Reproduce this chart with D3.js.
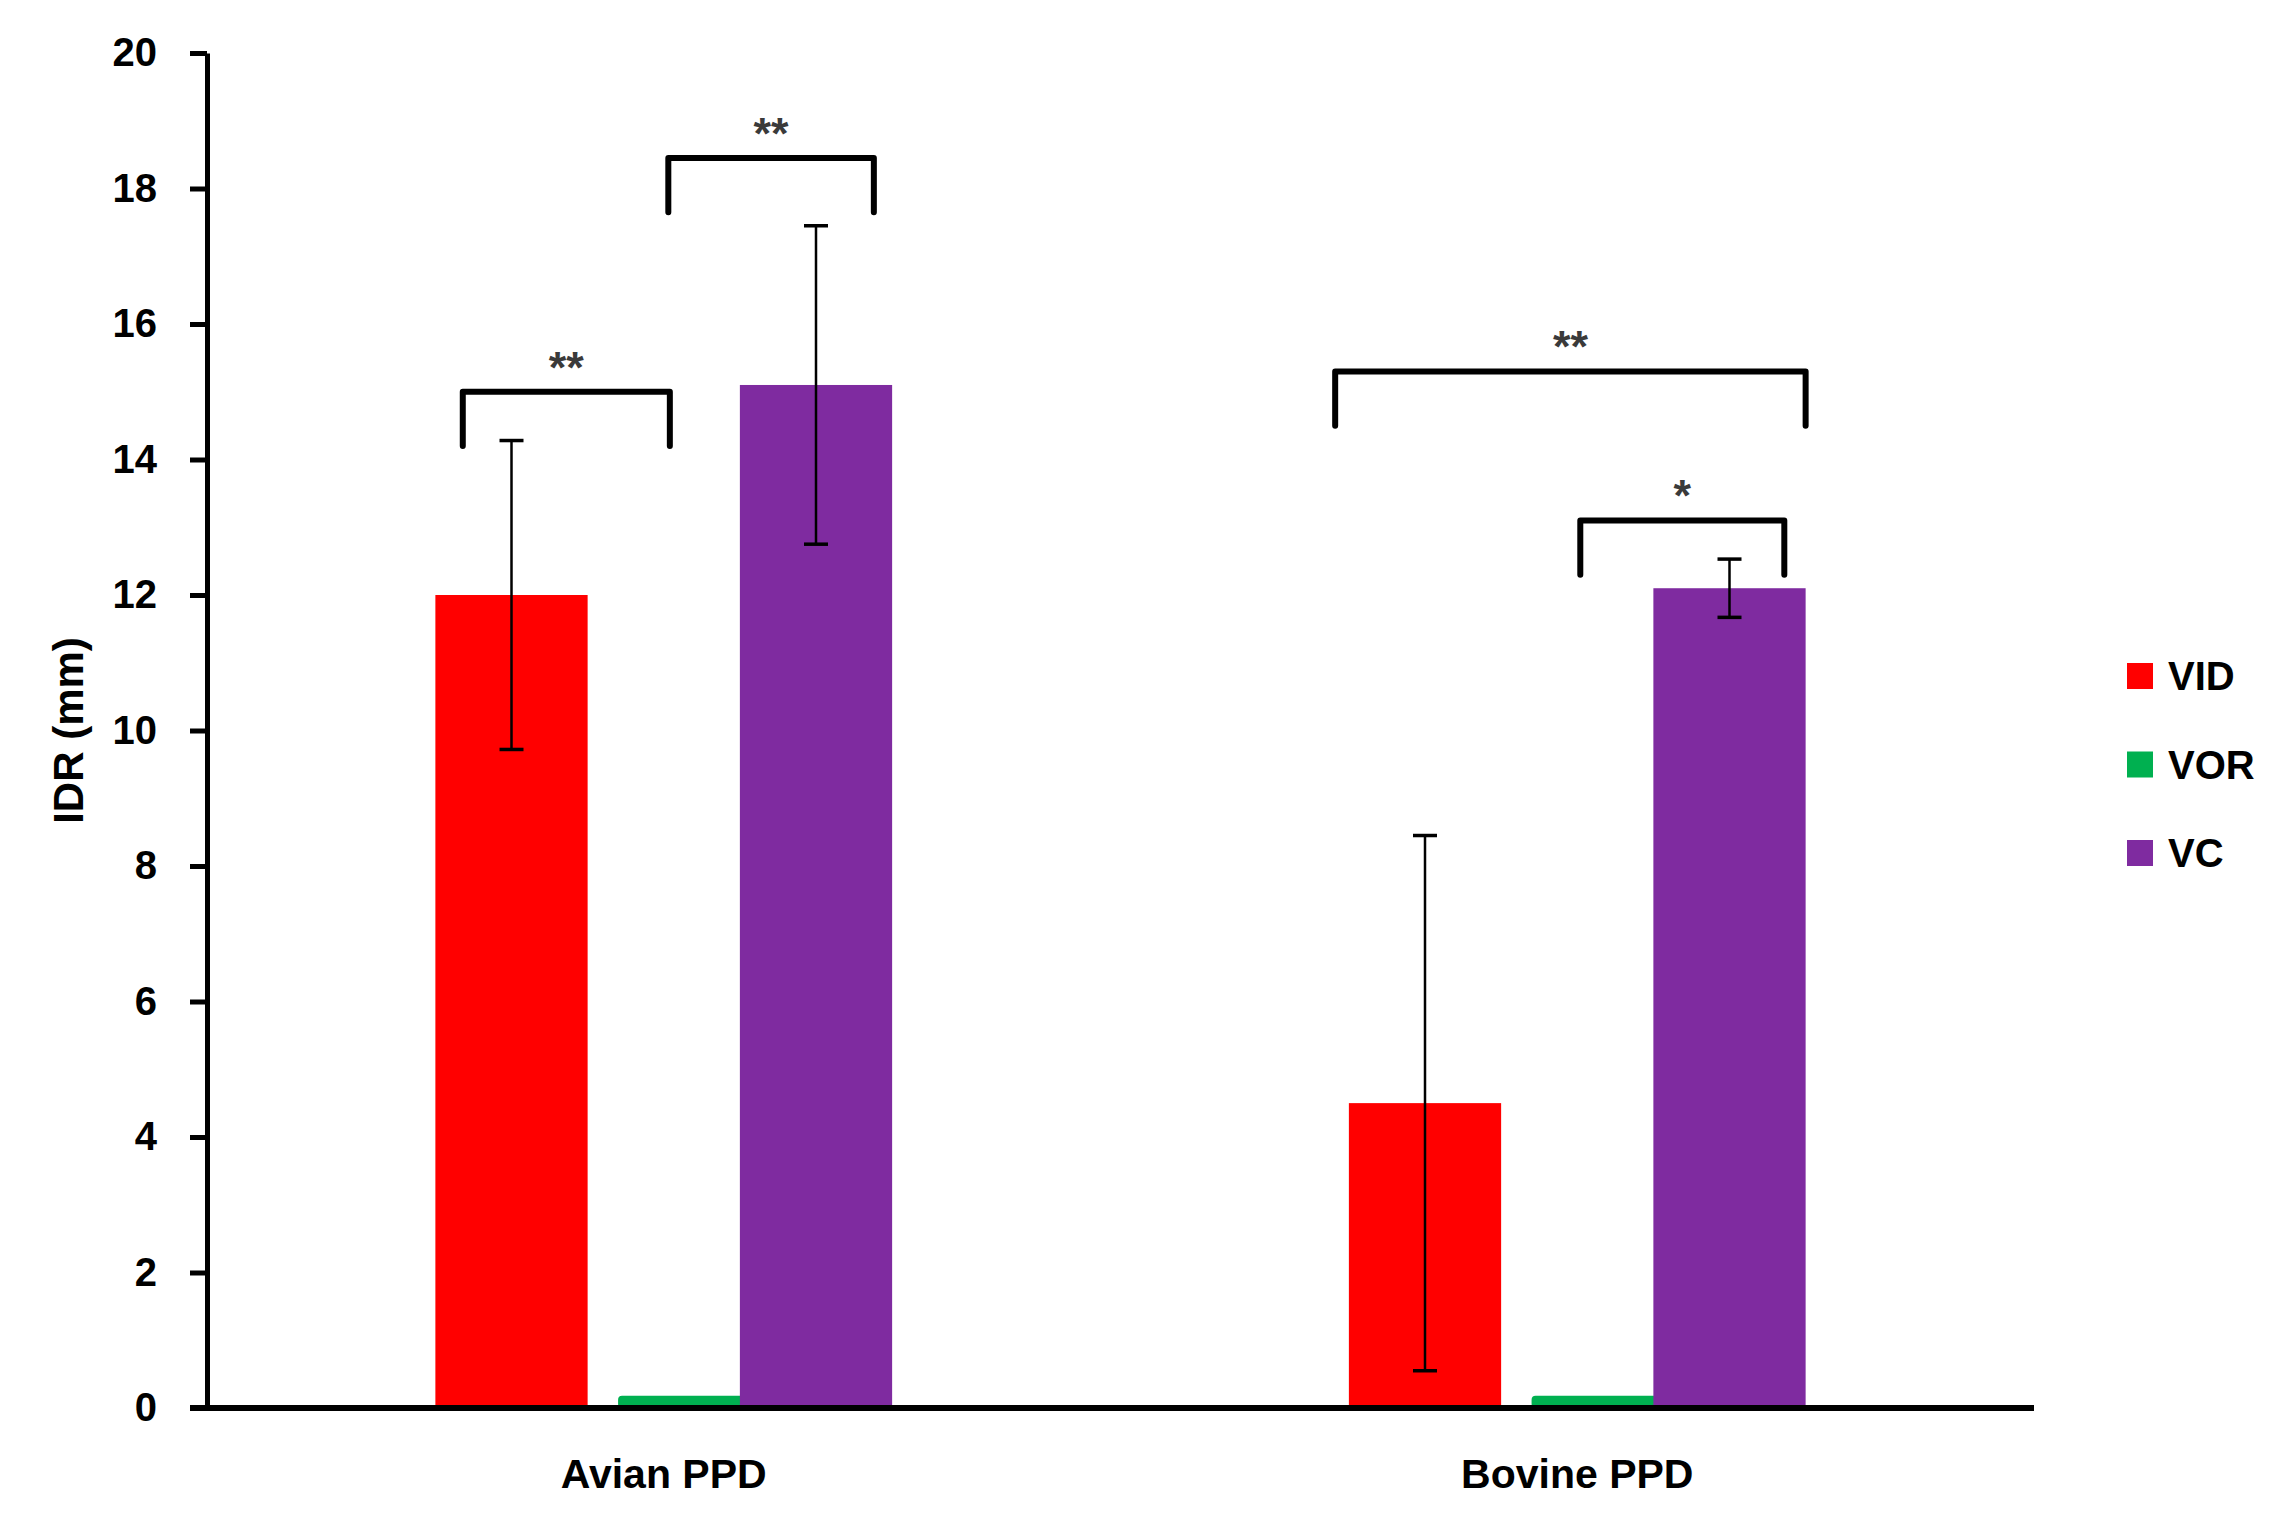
<!DOCTYPE html>
<html>
<head>
<meta charset="utf-8">
<script src="https://cdn.jsdelivr.net/npm/d3@7"></script>
<style>
  body { margin: 0; background: #fff; }
  text { font-family: "Liberation Sans", Arial, sans-serif; font-weight: bold; }
</style>
</head>
<body>
<svg id="chart" width="2295" height="1525"></svg>
<script>
// ---- data ----
var categories = ["Avian PPD", "Bovine PPD"];
var series = ["VID", "VOR", "VC"];
var colors = ["#ff0000", "#00b050", "#7f2ba0"];

// mean IDR (mm), one array per series, ordered as categories
var vidMeans = [12.0, 4.5];
var vorMeans = [0.15, 0.15];
var vcMeans  = [15.1, 12.1];

// error bar half-lengths
var vidErr = [2.28, 3.95];
var vorErr = [0, 0];
var vcErr  = [2.35, 0.43];

var yTicks = [0, 2, 4, 6, 8, 10, 12, 14, 16, 18, 20];

// significance brackets: category, first and last series, bracket level (mm)
var bracketCats   = ["Avian PPD", "Avian PPD", "Bovine PPD", "Bovine PPD"];
var bracketFrom   = ["VID", "VOR", "VID", "VOR"];
var bracketTo     = ["VOR", "VC", "VC", "VC"];
var bracketLevels = [15.0, 18.45, 15.3, 13.1];
var bracketLabels = ["**", "**", "**", "*"];

// ---- layout ----
var plot = {left: 207, right: 2034, top: 53, bottom: 1408};
var legDrop = 0.8;                 // bracket leg length in mm
// where the bracket ends sit inside their bar slot (fraction of bar width)
var bracketFromFrac = [0.18, 0.53, -0.09, 0.52];
var bracketToFrac   = [0.54, 0.88, 1.0, 0.86];

var meansBySeries = [vidMeans, vorMeans, vcMeans];
var errBySeries = [vidErr, vorErr, vcErr];

var rows = [];
series.forEach(function(s, i) {
    categories.forEach(function(c, j) {
        rows.push({series: s, cat: c, value: meansBySeries[i][j], err: errBySeries[i][j], color: colors[i]});
    });
});

var svg = d3.select("#chart");

var x0 = d3.scaleBand()
    .domain(categories)
    .range([plot.left, plot.right])
    .padding(0);

var bw0 = x0.bandwidth();
var x1 = d3.scaleBand()
    .domain(series)
    .range([bw0 * 0.25, bw0 * 0.75])
    .padding(0);

var y = d3.scaleLinear()
    .domain([0, 20])
    .range([plot.bottom, plot.top]);

var bw = x1.bandwidth();

// bars (the thin VOR bar sits a little right and narrower in the original)
svg.append("g")
    .selectAll("rect")
    .data(rows)
    .enter().append("rect")
    .attr("x", function(d) {
        var xx = x0(d.cat) + x1(d.series);
        return d.series === "VOR" ? xx + bw * 0.2 : xx;
    })
    .attr("width", function(d) { return d.series === "VOR" ? bw * 0.85 : bw; })
    .attr("y", function(d) { return y(d.value) - (d.series === "VOR" ? 2 : 0); })
    .attr("height", function(d) { return y(0) - y(d.value) + (d.series === "VOR" ? 2 : 0); })
    .attr("rx", function(d) { return d.series === "VOR" ? 4 : 0; })
    .attr("fill", function(d) { return d.color; });

// error bars
var errRows = rows.filter(function(d) { return d.err > 0; });
var eg = svg.append("g").attr("stroke", "#000");
eg.selectAll("line.stem")
    .data(errRows)
    .enter().append("line")
    .attr("class", "stem")
    .attr("x1", function(d) { return x0(d.cat) + x1(d.series) + bw / 2; })
    .attr("x2", function(d) { return x0(d.cat) + x1(d.series) + bw / 2; })
    .attr("y1", function(d) { return y(d.value + d.err); })
    .attr("y2", function(d) { return y(d.value - d.err); })
    .attr("stroke-width", 2.5);
[1, -1].forEach(function(sign) {
    eg.selectAll("line.cap" + (sign > 0 ? "t" : "b"))
        .data(errRows)
        .enter().append("line")
        .attr("x1", function(d) { return x0(d.cat) + x1(d.series) + bw / 2 - 12; })
        .attr("x2", function(d) { return x0(d.cat) + x1(d.series) + bw / 2 + 12; })
        .attr("y1", function(d) { return y(d.value + sign * d.err); })
        .attr("y2", function(d) { return y(d.value + sign * d.err); })
        .attr("stroke-width", 3.5);
});

// significance brackets
var brackets = bracketCats.map(function(c, i) {
    return {
        xa: x0(c) + x1(bracketFrom[i]) + bw * bracketFromFrac[i],
        xb: x0(c) + x1(bracketTo[i]) + bw * bracketToFrac[i],
        level: bracketLevels[i],
        label: bracketLabels[i]
    };
});
var bg = svg.append("g");
bg.selectAll("path")
    .data(brackets)
    .enter().append("path")
    .attr("d", function(d) {
        var yt = y(d.level), yb = y(d.level - legDrop);
        return "M" + d.xa + "," + yb + "V" + yt + "H" + d.xb + "V" + yb;
    })
    .attr("fill", "none")
    .attr("stroke", "#000")
    .attr("stroke-width", 6)
    .attr("stroke-linejoin", "round")
    .attr("stroke-linecap", "round");
bg.selectAll("text")
    .data(brackets)
    .enter().append("text")
    .attr("x", function(d) { return (d.xa + d.xb) / 2; })
    .attr("y", function(d) { return y(d.level) - 9; })
    .attr("text-anchor", "middle")
    .attr("font-size", 45)
    .attr("fill", "#3a3a3a")
    .text(function(d) { return d.label; });

// y axis
var yAxis = svg.append("g")
    .attr("transform", "translate(" + plot.left + ",0)")
    .call(d3.axisLeft(y).tickValues(yTicks).tickSize(17).tickSizeOuter(0).tickPadding(33));
yAxis.select(".domain").attr("stroke-width", 5);
yAxis.selectAll(".tick line").attr("stroke-width", 5);
yAxis.selectAll(".tick text")
    .attr("font-size", 40)
    .attr("font-family", "Liberation Sans, Arial, sans-serif")
    .attr("font-weight", "bold")
    .attr("fill", "#000");

// x axis baseline
svg.append("line")
    .attr("x1", plot.left - 17)
    .attr("x2", plot.right)
    .attr("y1", y(0))
    .attr("y2", y(0))
    .attr("stroke", "#000")
    .attr("stroke-width", 6);

// category labels
svg.append("g")
    .selectAll("text")
    .data(categories)
    .enter().append("text")
    .attr("x", function(d) { return x0(d) + bw0 / 2; })
    .attr("y", 1488)
    .attr("text-anchor", "middle")
    .attr("font-size", 41)
    .text(function(d) { return d; });

// y axis title
svg.append("text")
    .attr("transform", "translate(68," + y(10) + ") rotate(-90)")
    .attr("text-anchor", "middle")
    .attr("dominant-baseline", "central")
    .attr("font-size", 42)
    .text("IDR (mm)");

// legend
var legend = svg.append("g")
    .selectAll("g")
    .data(series)
    .enter().append("g")
    .attr("transform", function(d, i) { return "translate(2127," + (676 + i * 88.5) + ")"; });
legend.append("rect")
    .attr("x", 0)
    .attr("y", -13)
    .attr("width", 26)
    .attr("height", 26)
    .attr("fill", function(d, i) { return colors[i]; });
legend.append("text")
    .attr("x", 41)
    .attr("y", 14)
    .attr("font-size", 40)
    .text(function(d) { return d; });
</script>
</body>
</html>
